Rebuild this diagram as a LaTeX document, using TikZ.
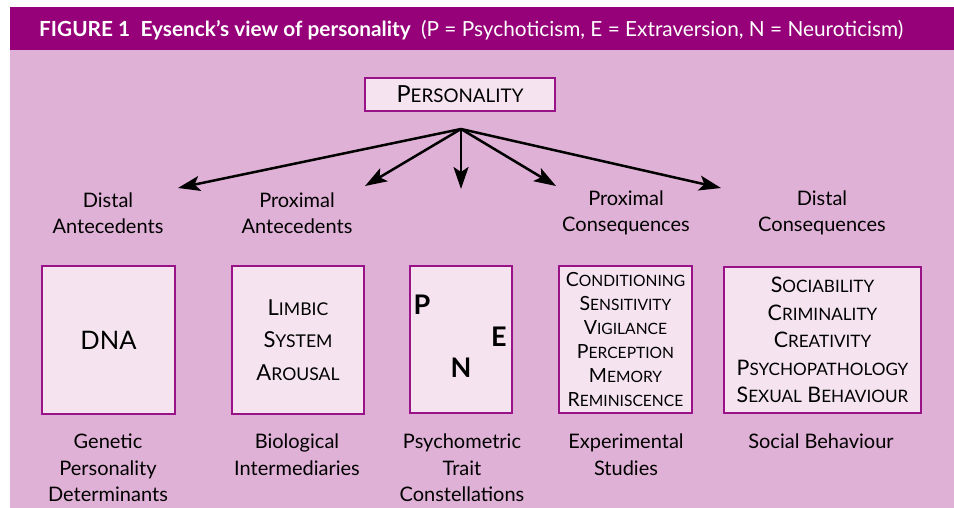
\documentclass[tikz,border=0pt]{standalone}
\usepackage{fontspec}
\setmainfont{Lato}
\usetikzlibrary{arrows.meta}

\definecolor{band}{HTML}{960078}
\definecolor{panel}{HTML}{E0B1D6}
\definecolor{boxfill}{HTML}{F5E4F0}
\definecolor{boxline}{HTML}{9A1287}

% small capitals built from reduced upper-case letters
\makeatletter
\newcommand\smc[1]{{\fontsize{\fpeval{0.8*\f@size}}{\f@baselineskip}\selectfont #1}}
\makeatother

\tikzset{
  box/.style={draw=boxline, fill=boxfill, line width=2.5pt, inner sep=0pt,
              align=center, text=black},
  lbl/.style={align=center, inner sep=0pt, font=\fontsize{20}{26.5}\selectfont},
  arr/.style={line width=2.5pt, -{Stealth[length=22pt,width=15pt,inset=5pt]}},
  trait/.style={inner sep=0pt, font=\fontsize{27}{27}\selectfont\bfseries},
}

\begin{document}
\begin{tikzpicture}[x=1pt,y=-1pt]
  \useasboundingbox (0,0) rectangle (954,508);
  % title band and panel
  \fill[band] (10,7) rectangle (954,50);
  \fill[panel] (10,50) rectangle (954,508);
  \node[anchor=west, text=white, inner sep=0pt] (title) at (39,30)
    {\fontsize{20.8}{24}\selectfont\textbf{FIGURE 1\enspace Eysenck’s view of personality}\enspace (P = Psychoticism, E = Extraversion, N = Neuroticism)};

  % root
  \node[box, minimum width=190pt, minimum height=33pt,
        font=\fontsize{23.5}{26}\selectfont] (pers) at (460,94.5) {P\smc{ERSONALITY}};
  \coordinate (hub) at (461,129);

  % arrow targets
  \coordinate (t1) at (178,188);
  \coordinate (t2) at (365,186);
  \coordinate (t3) at (461,189);
  \coordinate (t4) at (556,186);
  \coordinate (t5) at (721,188);
  \foreach \t in {t1,t2,t3,t4,t5}
    \draw[arr] (hub) -- (\t);

  % upper labels
  \node[lbl] (da) at (108,213) {Distal\\Antecedents};
  \node[lbl] (pa) at (297,213) {Proximal\\Antecedents};
  \node[lbl] (pc) at (626,213) {Proximal\\Consequences};
  \node[lbl] (dc) at (822,213) {Distal\\Consequences};

  % boxes
  \node[box, minimum width=133pt, minimum height=148pt,
        font=\fontsize{25.5}{28}\selectfont] (dna) at (108.5,340) {DNA};
  \node[box, minimum width=132pt, minimum height=148pt,
        font=\fontsize{22}{32.5}\selectfont] (limbic) at (298,340)
        {L\smc{IMBIC}\\S\smc{YSTEM}\\A\smc{ROUSAL}};
  \node[box, minimum width=102pt, minimum height=147pt] (pne) at (461,339.5) {};
  \node[trait] (p) at (422,305) {P};
  \node[trait] (e) at (499,337) {E};
  \node[trait] (n) at (461,368) {N};
  \node[box, minimum width=133pt, minimum height=147pt,
        font=\fontsize{19.5}{24}\selectfont] (cond) at (625.5,339.5)
        {C\smc{ONDITIONING}\\S\smc{ENSITIVITY}\\V\smc{IGILANCE}\\P\smc{ERCEPTION}\\M\smc{EMORY}\\R\smc{EMINISCENCE}};
  \node[box, minimum width=197pt, minimum height=146pt,
        font=\fontsize{21.4}{27.5}\selectfont] (soc) at (822.5,340)
        {S\smc{OCIABILITY}\\C\smc{RIMINALITY}\\C\smc{REATIVITY}\\P\smc{SYCHOPATHOLOGY}\\S\smc{EXUAL} B\smc{EHAVIOUR}};

  % lower labels
  \node[lbl] (gen) at (108,468) {Genetic\\Personality\\Determinants};
  \node[lbl] (bio) at (297,454.5) {Biological\\Intermediaries};
  \node[lbl] (psy) at (462,468) {Psychometric\\Trait\\Constellations};
  \node[lbl] (exp) at (626,454.5) {Experimental\\Studies};
  \node[lbl] (sb) at (821,441) {Social Behaviour};
\end{tikzpicture}
\end{document}
